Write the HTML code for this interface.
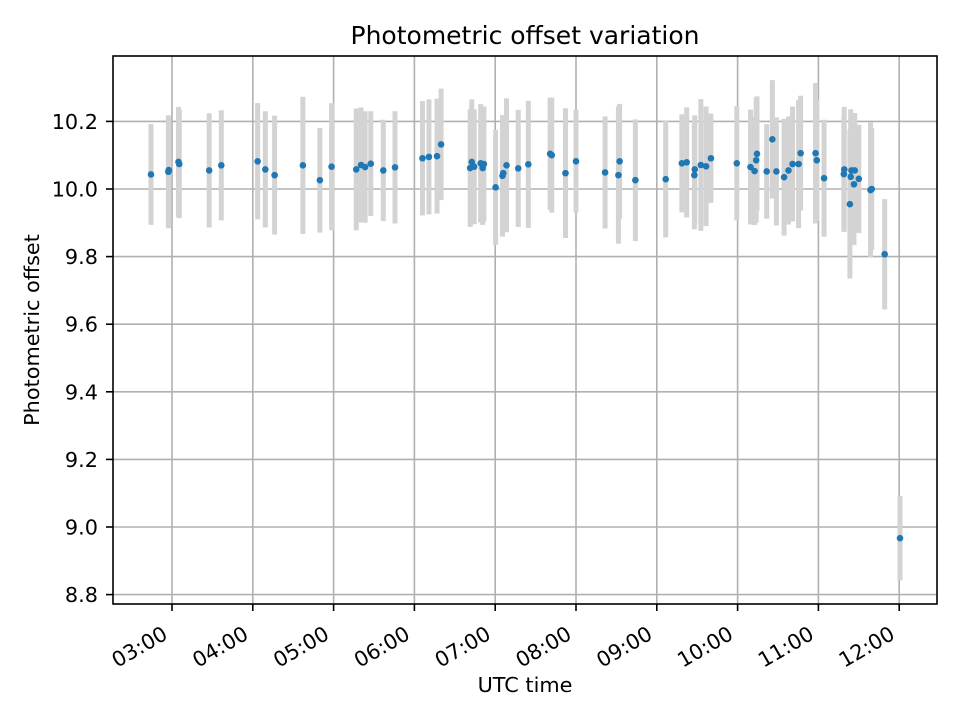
<!DOCTYPE html>
<html><head><meta charset="utf-8"><style>
html,body{margin:0;padding:0;background:#fff;}
svg{display:block;font-family:"DejaVu Sans","Liberation Sans",sans-serif;}
</style></head><body>
<svg id="chart" width="960" height="720" viewBox="0 0 960 720">
<rect x="0" y="0" width="960" height="720" fill="#fff"/>
<g id="grid"></g>
<g id="bars"></g>
<g id="pts"></g>
<rect x="113" y="56" width="824" height="548" fill="none" stroke="#000" stroke-width="1.6"/>
<g id="xt"></g>
<g id="yt"></g>
<text x="525" y="44" text-anchor="middle" font-size="25">Photometric offset variation</text>
<text x="525" y="692" text-anchor="middle" font-size="20.8">UTC time</text>
<text x="39" y="330" text-anchor="middle" font-size="20.8" transform="rotate(-90 39 330)">Photometric offset</text>
</svg>
<script>
const times=[2.74,2.955,2.96,3.08,3.09,3.46,3.61,4.06,4.155,4.27,4.62,4.83,4.975,5.28,5.34,5.39,5.46,5.615,5.76,6.1,6.18,6.28,6.33,6.69,6.71,6.74,6.82,6.845,6.86,7.005,7.09,7.1,7.14,7.285,7.41,7.68,7.7,7.87,8.0,8.36,8.525,8.54,8.735,9.11,9.31,9.37,9.47,9.465,9.545,9.61,9.67,9.99,10.16,10.21,10.23,10.24,10.36,10.43,10.48,10.575,10.63,10.68,10.755,10.78,10.965,10.98,11.07,11.32,11.315,11.39,11.41,11.4,11.44,11.45,11.5,11.645,11.66,11.82,12.01];
const values=[10.043,10.051,10.056,10.08,10.074,10.055,10.07,10.082,10.058,10.041,10.07,10.026,10.066,10.058,10.071,10.065,10.075,10.055,10.064,10.091,10.095,10.097,10.132,10.062,10.08,10.066,10.076,10.062,10.074,10.005,10.039,10.047,10.07,10.061,10.073,10.104,10.1,10.047,10.082,10.049,10.041,10.082,10.026,10.029,10.076,10.079,10.058,10.041,10.071,10.067,10.091,10.076,10.065,10.053,10.085,10.104,10.052,10.147,10.052,10.035,10.055,10.074,10.074,10.106,10.106,10.085,10.032,10.058,10.044,9.955,10.055,10.036,10.014,10.055,10.03,9.997,10.0,9.807,8.967];
const errors=[0.149,0.167,0.16,0.163,0.16,0.169,0.163,0.172,0.172,0.176,0.203,0.155,0.188,0.18,0.17,0.165,0.155,0.15,0.166,0.169,0.17,0.17,0.165,0.174,0.185,0.17,0.175,0.168,0.17,0.17,0.18,0.17,0.198,0.173,0.188,0.166,0.17,0.192,0.152,0.166,0.203,0.17,0.18,0.172,0.145,0.163,0.16,0.16,0.195,0.177,0.132,0.169,0.17,0.16,0.185,0.17,0.14,0.175,0.16,0.173,0.16,0.17,0.19,0.17,0.208,0.18,0.173,0.185,0.17,0.22,0.16,0.2,0.18,0.17,0.16,0.2,0.18,0.163,0.125];
const xTicks=[3,4,5,6,7,8,9,10,11,12];
const xTickLabels=["03:00","04:00","05:00","06:00","07:00","08:00","09:00","10:00","11:00","12:00"];
const yTicks=[8.8,9.0,9.2,9.4,9.6,9.8,10.0,10.2];
const yTickLabels=["8.8","9.0","9.2","9.4","9.6","9.8","10.0","10.2"];

const NS="http://www.w3.org/2000/svg";
function xs(h){return 172+(h-3)*80.8;}
function ys(v){return 189-(v-10)*338;}
function mk(tag,attrs,parent){const e=document.createElementNS(NS,tag);for(const k in attrs)e.setAttribute(k,attrs[k]);parent.appendChild(e);return e;}
const grid=document.getElementById('grid'),bars=document.getElementById('bars'),pts=document.getElementById('pts'),xt=document.getElementById('xt'),yt=document.getElementById('yt');
xTicks.forEach((t,i)=>{
  const x=xs(t);
  const g=mk('line',{x1:x,x2:x,y1:56,y2:604,stroke:'#b0b0b0','stroke-width':1.6},grid);
  
  
  const tk=mk('line',{x1:x,x2:x,y1:604,y2:611,stroke:'#000','stroke-width':1.6},xt);
  
  
  const tx=mk('text',{x:0,y:0,'text-anchor':'end','font-size':20.8,transform:'translate('+(x-3)+' 638) rotate(-30)'},xt);
  tx.textContent=xTickLabels[i];
  
  
});
yTicks.forEach((t,i)=>{
  const y=ys(t);
  const g=mk('line',{x1:113,x2:937,y1:y,y2:y,stroke:'#b0b0b0','stroke-width':1.6},grid);
  
  
  const tk=mk('line',{x1:106,x2:113,y1:y,y2:y,stroke:'#000','stroke-width':1.6},yt);
  
  
  const tx=mk('text',{x:98,y:y+7.5,'text-anchor':'end','font-size':20.8},yt);
  tx.textContent=yTickLabels[i];
  
  
});
times.forEach((t,i)=>{
  const x=xs(t);
  const b=mk('line',{x1:x,x2:x,y1:ys(values[i]+errors[i]),y2:ys(values[i]-errors[i]),stroke:'#d3d3d3','stroke-width':5},bars);
  
  
});
times.forEach((t,i)=>{
  const c=mk('circle',{cx:xs(t),cy:ys(values[i]),r:3.3,fill:'#1f77b4'},pts);
  
  
});
</script>
</body></html>
